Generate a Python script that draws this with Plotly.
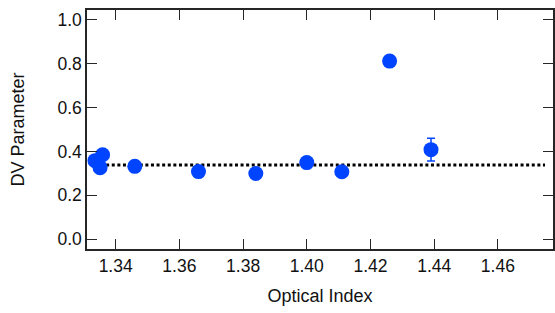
import plotly.graph_objects as go

optical_index = [1.3335, 1.3351, 1.3359, 1.346, 1.366, 1.384, 1.400, 1.411, 1.426, 1.439]
dv_parameter = [0.358, 0.326, 0.385, 0.332, 0.308, 0.299, 0.349, 0.307, 0.812, 0.408]
dv_error = [0, 0, 0, 0, 0, 0, 0, 0, 0, 0.052]

fit_x = [1.3335, 1.4748]
fit_y = [0.338, 0.338]

x_ticks = [1.34, 1.36, 1.38, 1.40, 1.42, 1.44, 1.46]
x_tick_labels = ["1.34", "1.36", "1.38", "1.40", "1.42", "1.44", "1.46"]
y_ticks = [0.0, 0.2, 0.4, 0.6, 0.8, 1.0]
y_tick_labels = ["0.0", "0.2", "0.4", "0.6", "0.8", "1.0"]

blue = "#0044ff"
frame = "#262626"
font = "Arial, Liberation Sans, sans-serif"

fig = go.Figure()
fig.add_trace(go.Scatter(
    x=fit_x, y=fit_y, mode="lines",
    line=dict(color="black", width=3, dash="3px,2.6px"),
    hoverinfo="skip", showlegend=False,
))
fig.add_trace(go.Scatter(
    x=optical_index, y=dv_parameter, mode="markers",
    marker=dict(color=blue, size=15, line=dict(width=0)),
    error_y=dict(type="data", array=dv_error, visible=True, color=blue, thickness=1.5, width=4),
    showlegend=False,
))

axis_common = dict(
    showline=True, linecolor=frame, linewidth=1.5, mirror="ticks",
    ticks="inside", ticklen=10, tickwidth=1.3, tickcolor=frame,
    showgrid=False, zeroline=False,
    tickfont=dict(family=font, size=17.5, color="#111"),
)

fig.update_layout(
    width=555, height=313,
    margin=dict(l=87, r=0, t=10, b=64),
    paper_bgcolor="white", plot_bgcolor="white",
    font=dict(family=font, color="#111"),
    xaxis=dict(
        range=[1.331, 1.4773], tickvals=x_ticks, ticktext=x_tick_labels,
        title=dict(text="Optical Index", font=dict(family=font, size=18), standoff=15),
        **axis_common,
    ),
    yaxis=dict(
        range=[-0.045, 1.045], tickvals=y_ticks, ticktext=y_tick_labels,
        title=dict(text="DV Parameter", font=dict(family=font, size=18), standoff=28),
        **axis_common,
    ),
)

fig.write_html(
    "out.html",
    config={"displayModeBar": False},
    post_script="document.body.style.margin='0';document.body.style.overflow='hidden';",
)
